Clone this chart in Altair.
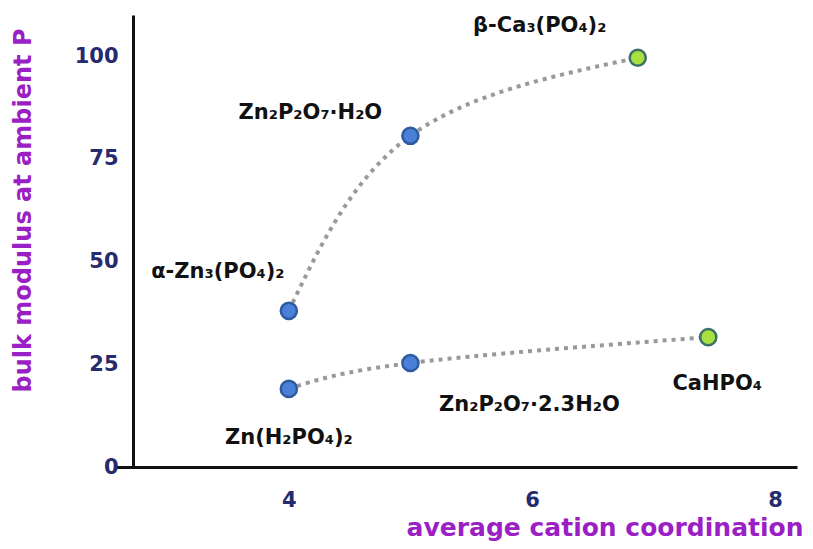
import altair as alt
import pandas as pd

# data
names = ["α-Zn₃(PO₄)₂", "Zn₂P₂O₇·H₂O", "β-Ca₃(PO₄)₂",
         "Zn(H₂PO₄)₂", "Zn₂P₂O₇·2.3H₂O", "CaHPO₄"]
coordination = [4.0, 5.0, 6.87, 4.0, 5.0, 7.45]
bulk_modulus = [38.0, 80.6, 99.6, 19.0, 25.3, 31.6]
cation = ["Zn", "Zn", "Ca", "Zn", "Zn", "Ca"]
trend = ["upper", "upper", "upper", "lower", "lower", "lower"]
order = [1, 2, 3, 1, 2, 3]

df = pd.DataFrame({"name": names, "x": coordination, "y": bulk_modulus,
                   "cation": cation, "trend": trend, "order": order})

# label offsets (pixels) per compound
label_offsets = {
    "α-Zn₃(PO₄)₂": (-71, -39),
    "Zn₂P₂O₇·H₂O": (-100, -23),
    "β-Ca₃(PO₄)₂": (-98, -32),
    "Zn(H₂PO₄)₂": (0, 49),
    "Zn₂P₂O₇·2.3H₂O": (119, 42),
    "CaHPO₄": (9, 47),
}

xscale = alt.Scale(domain=[2.57, 8.18], nice=False, zero=False)
yscale = alt.Scale(domain=[0, 110], nice=False)

FONT = "DejaVu Sans"
NAVY = "#262a6e"
PURPLE = "#9b1fc4"

xaxis = alt.Axis(values=[4, 6, 8], format="d", title="average cation coordination",
                 grid=False, ticks=False, domainColor="#111", domainWidth=3,
                 labelFont=FONT, labelFontSize=21, labelFontWeight="bold",
                 labelColor=NAVY, labelPadding=22,
                 titleFont=FONT, titleFontSize=25, titleFontWeight="bold",
                 titleColor=PURPLE, titleAnchor="end", titleAlign="right",
                 titleX=688, titleY=60, titleBaseline="middle")
yaxis = alt.Axis(values=[0, 25, 50, 75, 100], title="bulk modulus at ambient P",
                 grid=False, ticks=False, domainColor="#111", domainWidth=3,
                 offset=-18,
                 labelFont=FONT, labelFontSize=21, labelFontWeight="bold",
                 labelColor=NAVY, labelPadding=15,
                 titleFont=FONT, titleFontSize=24, titleFontWeight="bold",
                 titleColor=PURPLE, titleAngle=270, titleAlign="center",
                 titleBaseline="middle", titleX=-110, titleY=195)

base = alt.Chart(df)

lines = base.mark_line(interpolate="natural", color="#999999",
                       strokeWidth=4, strokeDash=[4, 5]).encode(
    x=alt.X("x:Q", scale=xscale, axis=xaxis),
    y=alt.Y("y:Q", scale=yscale, axis=yaxis),
    detail="trend:N",
    order="order:Q",
)

points = base.mark_circle(size=260, opacity=1, strokeWidth=2.5).encode(
    x=alt.X("x:Q", scale=xscale),
    y=alt.Y("y:Q", scale=yscale),
    fill=alt.Fill("cation:N", scale=alt.Scale(domain=["Zn", "Ca"],
                  range=["#4a80d8", "#a8e040"]), legend=None),
    stroke=alt.Stroke("cation:N", scale=alt.Scale(domain=["Zn", "Ca"],
                      range=["#2f5a9e", "#3d7068"]), legend=None),
)

text_layers = []
for n, (dx, dy) in label_offsets.items():
    text_layers.append(
        base.transform_filter(alt.datum.name == n).mark_text(
            font=FONT, fontSize=21, fontWeight="bold", color="#111111",
            dx=dx, dy=dy, baseline="middle", align="center").encode(
            x=alt.X("x:Q", scale=xscale),
            y=alt.Y("y:Q", scale=yscale),
            text="name:N")
    )

chart = alt.layer(lines, points, *text_layers).properties(
    width=682, height=452,
    autosize=alt.AutoSizeParams(type="none"),
    padding={"left": 107, "top": 7, "right": 8, "bottom": 75},
).configure(background="white").configure_view(stroke=None)

chart.save("out.html", embed_options={"renderer": "svg", "actions": False})
